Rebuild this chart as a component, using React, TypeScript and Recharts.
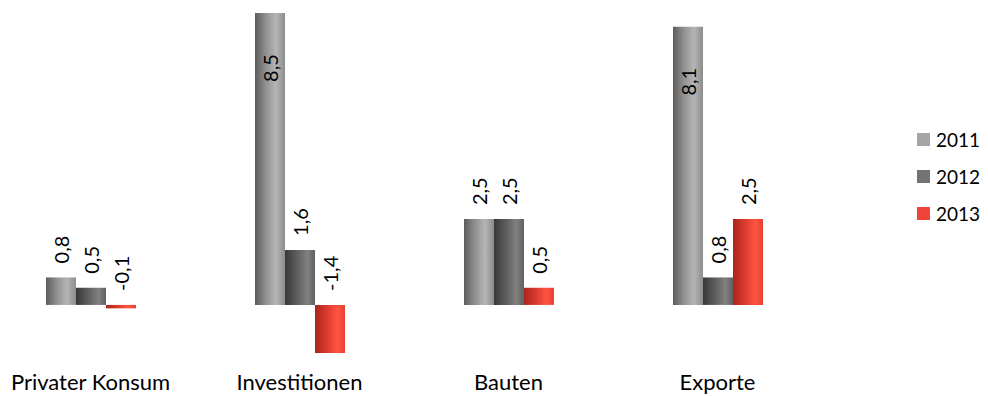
import { Bar, BarChart, LabelList, XAxis, YAxis } from "recharts";

const categories = ["Privater Konsum", "Investitionen", "Bauten", "Exporte"];
const values2011 = [0.8, 8.5, 2.5, 8.1];
const values2012 = [0.5, 1.6, 2.5, 0.8];
const values2013 = [-0.1, -1.4, 0.5, 2.5];
const years = ["2011", "2012", "2013"];

const legendColors = ["#a5a5a5", "#737373", "#f2433a"];
const FONT = "Lato, 'Open Sans', sans-serif";

const data = categories.map((name, i) => ({
  name,
  y2011: values2011[i],
  y2012: values2012[i],
  y2013: values2013[i]
}));

const fmt = (v: number) => v.toFixed(1).replace(".", ",");

function ValueLabel(props: any) {
  const { x, y, width, height, value } = props;
  const cx = x + width / 2;
  const top = Math.min(y, y + height);
  const inside = value > 7;
  const ty = inside ? top + 55 : top - 14;
  return (
    <text
      x={cx}
      y={ty}
      transform={`rotate(-90 ${cx} ${ty})`}
      textAnchor={inside ? "middle" : "start"}
      dominantBaseline="central"
      fontFamily={FONT}
      fontSize={20}
      fill="#000"
    >
      {fmt(value)}
    </text>
  );
}

function CategoryTick(props: any) {
  const { x, y, payload } = props;
  return (
    <text x={x} y={y + 29} textAnchor="middle" fontFamily={FONT} fontSize={22} fill="#000">
      {payload.value}
    </text>
  );
}

function YearLegend() {
  return (
    <div
      style={{
        position: "absolute",
        left: 917,
        top: 121,
        width: 71,
        fontFamily: FONT,
        fontSize: 19,
        color: "#000",
        whiteSpace: "nowrap"
      }}
    >
      {years.map((yr, i) => (
        <div key={yr} style={{ display: "flex", alignItems: "center", height: 37 }}>
          <span
            style={{
              display: "inline-block",
              flex: "none",
              width: 13,
              height: 13,
              background: legendColors[i],
              marginRight: 6
            }}
          />
          {yr}
        </div>
      ))}
    </div>
  );
}

export default function App() {
  return (
    <div style={{ position: "relative", margin: "-8px 0 0 -8px", width: 988, height: 396 }}>
      <BarChart
        width={988}
        height={396}
        data={data}
        barGap={0}
        barSize={30}
        margin={{ top: 13, right: 166, left: -14, bottom: 0 }}
      >
        <defs>
          <linearGradient id="g2011" x1="0" y1="0" x2="1" y2="0">
            <stop offset="0%" stopColor="#5c5c5c" />
            <stop offset="35%" stopColor="#8f8f8f" />
            <stop offset="70%" stopColor="#b5b5b5" />
            <stop offset="100%" stopColor="#8c8c8c" />
          </linearGradient>
          <linearGradient id="g2012" x1="0" y1="0" x2="1" y2="0">
            <stop offset="0%" stopColor="#383838" />
            <stop offset="40%" stopColor="#5e5e5e" />
            <stop offset="75%" stopColor="#808080" />
            <stop offset="100%" stopColor="#606060" />
          </linearGradient>
          <linearGradient id="g2013" x1="0" y1="0" x2="1" y2="0">
            <stop offset="0%" stopColor="#a8261c" />
            <stop offset="40%" stopColor="#dc3a2e" />
            <stop offset="75%" stopColor="#ff5444" />
            <stop offset="100%" stopColor="#e8402f" />
          </linearGradient>
        </defs>
        <XAxis
          dataKey="name"
          axisLine={false}
          tickLine={false}
          height={43}
          tick={<CategoryTick />}
          interval={0}
        />
        <YAxis hide domain={[-1.4, 8.5]} />
        <Bar dataKey="y2011" name="2011" fill="url(#g2011)" isAnimationActive={false}>
          <LabelList dataKey="y2011" content={<ValueLabel />} />
        </Bar>
        <Bar dataKey="y2012" name="2012" fill="url(#g2012)" isAnimationActive={false}>
          <LabelList dataKey="y2012" content={<ValueLabel />} />
        </Bar>
        <Bar dataKey="y2013" name="2013" fill="url(#g2013)" isAnimationActive={false}>
          <LabelList dataKey="y2013" content={<ValueLabel />} />
        </Bar>
      </BarChart>
      <YearLegend />
    </div>
  );
}
